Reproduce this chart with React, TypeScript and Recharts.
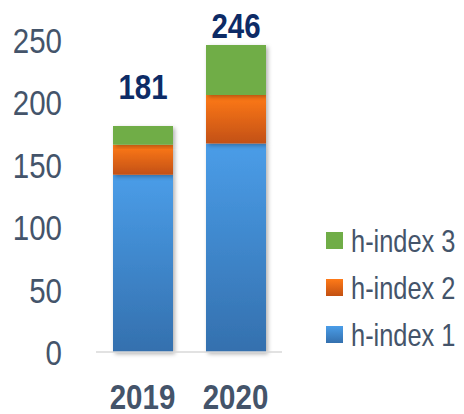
import { BarChart, Bar, XAxis, YAxis, LabelList } from "recharts";

const years = ["2019", "2020"];
const hIndex1 = [142, 167];
const hIndex2 = [24, 39];
const hIndex3 = [15, 40];
const totals = [181, 246];
const yTicks = [0, 50, 100, 150, 200, 250];

const data = years.map((year, i) => ({
  year,
  h1: hIndex1[i],
  h2: hIndex2[i],
  h3: hIndex3[i],
  total: totals[i],
}));

// no narrow font installed, so squeeze Liberation Sans horizontally
const FONT = "'Liberation Sans', Arial, sans-serif";
const NARROW = 0.82;
const AXIS_COLOR = "#44546A";

const legendItems = [
  { name: "h-index 3", fill: "#70AD47" },
  { name: "h-index 2", fill: "url(#lgOrange)" },
  { name: "h-index 1", fill: "url(#lgBlue)" },
];

const NarrowText = ({ x, y, anchor, size, bold, color, children }: any) => (
  <g transform={`translate(${x}, ${y}) scale(${NARROW}, 1)`}>
    <text
      x={0}
      y={0}
      textAnchor={anchor}
      fill={color}
      fontSize={size}
      fontWeight={bold ? "bold" : "normal"}
      fontFamily={FONT}
    >
      {children}
    </text>
  </g>
);

const YTick = (props: any) => {
  const { y, payload } = props;
  return (
    <NarrowText x={62} y={y + 13} anchor="end" size={36} color={AXIS_COLOR}>
      {payload.value}
    </NarrowText>
  );
};

const XTick = (props: any) => {
  const { x, payload } = props;
  return (
    <NarrowText x={x} y={409} anchor="middle" size={36} bold color={AXIS_COLOR}>
      {payload.value}
    </NarrowText>
  );
};

const TotalLabel = (props: any) => {
  const { x, y, width, value } = props;
  const baseline = Math.max(y - 27, 38);
  return (
    <NarrowText x={x + width / 2} y={baseline} anchor="middle" size={36} bold color="#0D2B66">
      {value}
    </NarrowText>
  );
};

const ChartLegend = () => (
  <svg
    width={134}
    height={140}
    style={{ position: "absolute", left: 326, top: 228 }}
  >
    <defs>
      <linearGradient id="lgOrange" x1="0" y1="0" x2="0" y2="1">
        <stop offset="0%" stopColor="#FF7A18" />
        <stop offset="100%" stopColor="#C25012" />
      </linearGradient>
      <linearGradient id="lgBlue" x1="0" y1="0" x2="0" y2="1">
        <stop offset="0%" stopColor="#4A9DE8" />
        <stop offset="100%" stopColor="#3470AE" />
      </linearGradient>
    </defs>
    {legendItems.map((item, i) => (
      <g key={item.name} transform={`translate(0, ${i * 47})`}>
        <rect x={0} y={4} width={17} height={17} fill={item.fill} />
        <NarrowText x={25} y={24} anchor="start" size={31} color={AXIS_COLOR}>
          {item.name}
        </NarrowText>
      </g>
    ))}
  </svg>
);

export default function App() {
  return (
    <div style={{ position: "absolute", left: 0, top: 0, width: 464, height: 414, background: "#fff" }}>
      <BarChart
        width={464}
        height={414}
        data={data}
        margin={{ top: 40, right: 182, left: 0, bottom: 0 }}
        barSize={60}
      >
        <defs>
          <linearGradient id="gradBlue" x1="0" y1="0" x2="0" y2="1">
            <stop offset="0%" stopColor="#4A9DE8" />
            <stop offset="100%" stopColor="#3470AE" />
          </linearGradient>
          <linearGradient id="gradOrange" x1="0" y1="0" x2="0" y2="1">
            <stop offset="0%" stopColor="#FF7A18" />
            <stop offset="100%" stopColor="#C25012" />
          </linearGradient>
          <filter id="barShadow" x="-20%" y="-20%" width="140%" height="140%">
            <feDropShadow dx={2} dy={2} stdDeviation={2} floodColor="#000" floodOpacity={0.3} />
          </filter>
        </defs>
        <XAxis
          dataKey="year"
          height={62}
          tickLine={false}
          axisLine={{ stroke: "#D9D9D9", strokeWidth: 1.5 }}
          tick={<XTick />}
        />
        <YAxis
          width={96}
          domain={[0, 250]}
          ticks={yTicks}
          interval={0}
          tickLine={false}
          axisLine={false}
          tick={<YTick />}
        />
        <Bar dataKey="h1" name="h-index 1" stackId="a" fill="url(#gradBlue)" filter="url(#barShadow)" isAnimationActive={false} />
        <Bar dataKey="h2" name="h-index 2" stackId="a" fill="url(#gradOrange)" filter="url(#barShadow)" isAnimationActive={false} />
        <Bar dataKey="h3" name="h-index 3" stackId="a" fill="#70AD47" filter="url(#barShadow)" isAnimationActive={false}>
          <LabelList dataKey="total" content={<TotalLabel />} />
        </Bar>
      </BarChart>
      <ChartLegend />
    </div>
  );
}
